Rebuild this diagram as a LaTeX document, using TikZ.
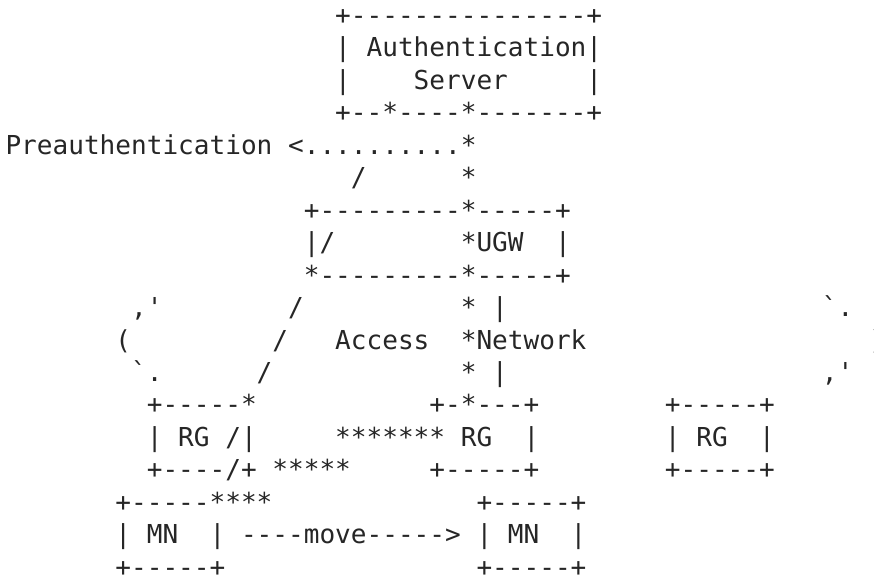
\documentclass[tikz,border=0pt]{standalone}
\usepackage{fontspec}
\setmonofont{DejaVu Sans Mono}
\definecolor{ink}{HTML}{262626}
\tikzset{
  chars/.style={anchor=base west, inner sep=0pt, outer sep=0pt, text=ink,
    font=\ttfamily\fontsize{19.56}{24}\selectfont}
}

\begin{document}
\begin{tikzpicture}[x=11.775pt, y=-24.3375pt, every node/.style={chars}]
  \useasboundingbox (-4.125pt,18.375pt) rectangle (651.375pt,-414.375pt);

  % authentication server
  \node (n0) at (21,0) {+---------------+};
  \node (n1) at (21,1) {|};
  \node (n2) at (23,1) {Authentication|};
  \node (n3) at (21,2) {|};
  \node (n4) at (26,2) {Server};
  \node (n5) at (37,2) {|};
  \node (n6) at (21,3) {+--*----*-------+};

  \node (n7) at (0,4) {Preauthentication};
  \node (n8) at (18,4) {<..........*};
  \node (n9) at (22,5) {/};
  \node (n10) at (29,5) {*};

  % ugw
  \node (n11) at (19,6) {+---------*-----+};
  \node (n12) at (19,7) {|/};
  \node (n13) at (29,7) {*UGW};
  \node (n14) at (35,7) {|};
  \node (n15) at (19,8) {*---------*-----+};

  % access network
  \node (n16) at (8,9) {,'};
  \node (n17) at (18,9) {/};
  \node (n18) at (29,9) {*};
  \node (n19) at (31,9) {|};
  \node (n20) at (52,9) {`.};
  \node (n21) at (7,10) {(};
  \node (n22) at (17,10) {/};
  \node (n23) at (21,10) {Access};
  \node (n24) at (29,10) {*Network};
  \node (n25) at (55,10) {)};
  \node (n26) at (8,11) {`.};
  \node (n27) at (16,11) {/};
  \node (n28) at (29,11) {*};
  \node (n29) at (31,11) {|};
  \node (n30) at (52,11) {,'};

  % rgs
  \node (n31) at (9,12) {+-----*};
  \node (n32) at (27,12) {+-*---+};
  \node (n33) at (42,12) {+-----+};
  \node (n34) at (9,13) {|};
  \node (n35) at (11,13) {RG};
  \node (n36) at (14,13) {/|};
  \node (n37) at (21,13) {*******};
  \node (n38) at (29,13) {RG};
  \node (n39) at (33,13) {|};
  \node (n40) at (42,13) {|};
  \node (n41) at (44,13) {RG};
  \node (n42) at (48,13) {|};
  \node (n43) at (9,14) {+----/+};
  \node (n44) at (17,14) {*****};
  \node (n45) at (27,14) {+-----+};
  \node (n46) at (42,14) {+-----+};

  % mns
  \node (n47) at (7,15) {+-----****};
  \node (n48) at (30,15) {+-----+};
  \node (n49) at (7,16) {|};
  \node (n50) at (9,16) {MN};
  \node (n51) at (13,16) {|};
  \node (n52) at (15,16) {----move----->};
  \node (n53) at (30,16) {|};
  \node (n54) at (32,16) {MN};
  \node (n55) at (36,16) {|};
  \node (n56) at (7,17) {+-----+};
  \node (n57) at (30,17) {+-----+};
\end{tikzpicture}
\end{document}
